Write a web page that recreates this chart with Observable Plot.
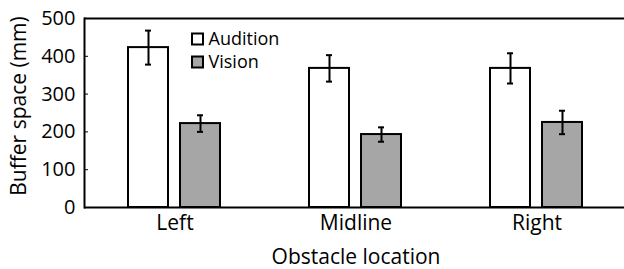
<!DOCTYPE html>
<html>
<head>
<meta charset="utf-8">
<script src="https://cdn.jsdelivr.net/npm/d3@7"></script>
<script src="https://cdn.jsdelivr.net/npm/@observablehq/plot@0.6"></script>
<style>
  html, body { margin: 0; padding: 0; background: white; }
</style>
</head>
<body>
<div id="chart"></div>
<script>
const locations = ["Left", "Midline", "Right"];
const series = ["Audition", "Vision"];
const auditionMean = [423, 368, 368];
const auditionErr = [45, 35, 40];
const visionMean = [222, 193, 225];
const visionErr = [22, 19, 31];
const yTicks = [0, 100, 200, 300, 400, 500];
const seriesColors = ["white", "#a6a6a6"];

const data = locations.flatMap((loc, i) => [
  {loc, series: "Audition", value: auditionMean[i], err: auditionErr[i]},
  {loc, series: "Vision", value: visionMean[i], err: visionErr[i]}
]);

const font = "'Open Sans', sans-serif";

const legendMarks = series.flatMap((s, i) => [
  Plot.dot([s], {fx: () => "Left", x: () => "Vision", frameAnchor: "top", dx: -3, dy: 20.5 + 23 * i,
    symbol: "square", r: 6.2, fill: d => d, stroke: "black", strokeWidth: 2}),
  Plot.text([s], {fx: () => "Left", x: () => "Vision", frameAnchor: "top", dx: 8, dy: 20.5 + 23 * i,
    text: d => d, textAnchor: "start", lineAnchor: "middle", fontSize: 18, fill: "black"})
]);

const chart = Plot.plot({
  width: 624,
  height: 269,
  marginLeft: 83,
  marginRight: 0,
  marginTop: 18,
  marginBottom: 62,
  style: {fontFamily: font, fontSize: "19px", color: "black", background: "white"},
  fx: {domain: locations, range: [83, 627.5], padding: 0, label: null},
  x: {domain: series, paddingInner: 0.226, paddingOuter: 0.8255, axis: null},
  y: {domain: [0, 500], ticks: yTicks, axis: null},
  color: {domain: series, range: seriesColors},
  marks: [
    Plot.barY(data, {fx: "loc", x: "series", y: "value", fill: "series", stroke: "black", strokeWidth: 2}),
    Plot.ruleX(data, {fx: "loc", x: "series", y1: d => d.value - d.err, y2: d => d.value + d.err, stroke: "black", strokeWidth: 2}),
    Plot.tickY(data, {fx: "loc", x: "series", y: d => d.value + d.err, stroke: "black", strokeWidth: 2, insetLeft: 17, insetRight: 17}),
    Plot.tickY(data, {fx: "loc", x: "series", y: d => d.value - d.err, stroke: "black", strokeWidth: 2, insetLeft: 17, insetRight: 17}),
    Plot.ruleY([0], {stroke: "black", strokeWidth: 2}),
    Plot.ruleY([500], {stroke: "black", strokeWidth: 2}),
    Plot.frame({anchor: "left", stroke: "black", strokeWidth: 2, facetAnchor: "left"}),
    Plot.axisY({ticks: yTicks, tickSize: -4, tickPadding: 13, fontSize: 20, label: null}),
    Plot.axisFx({anchor: "bottom", tickSize: 0, tickPadding: 8, fontSize: 21, label: "Obstacle location",
      labelAnchor: "center", labelArrow: "none", labelOffset: 56, labelFontSize: 21}),
    Plot.text(["Buffer space (mm)"], {fx: () => "Left", frameAnchor: "left", rotate: -90, dx: -65, dy: -7,
      textAnchor: "middle", text: d => d, fontSize: 21, fill: "black"}),
    ...legendMarks
  ]
});

document.getElementById("chart").appendChild(chart);
</script>
</body>
</html>
